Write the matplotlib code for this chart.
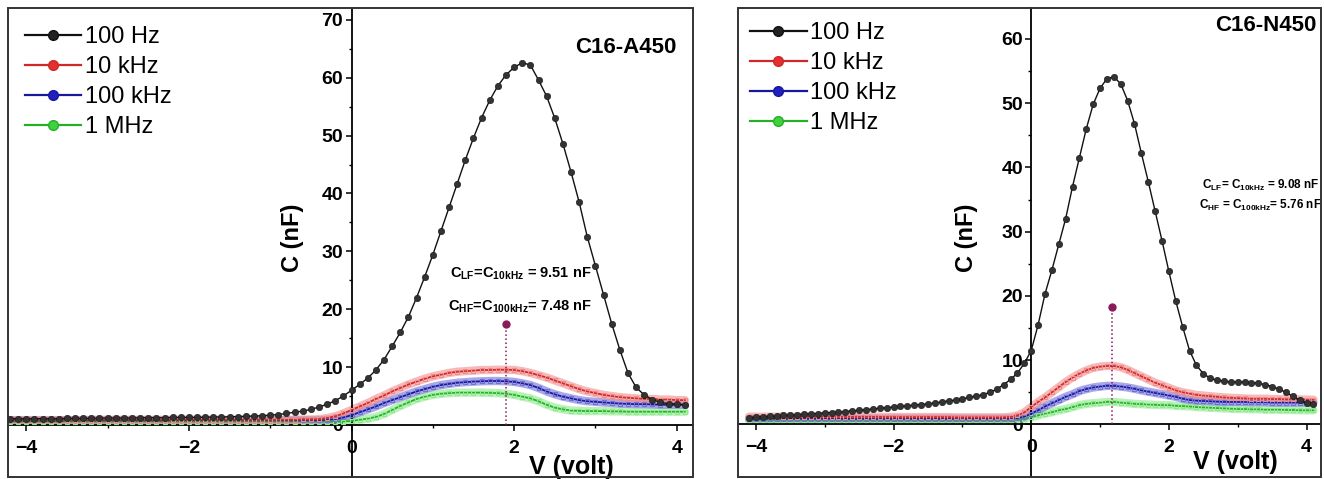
import numpy as np
import matplotlib
matplotlib.use("Agg")
import matplotlib.pyplot as plt
from matplotlib.patches import Rectangle
from matplotlib.lines import Line2D

plt.rcParams['font.family'] = ['Liberation Sans', 'DejaVu Sans']
plt.rcParams['mathtext.fontset'] = 'custom'
plt.rcParams['mathtext.rm'] = 'Liberation Sans'
plt.rcParams['mathtext.bf'] = 'Liberation Sans:bold'

# ---- data (C in nF vs bias V) ----
freq_labels = ['100 Hz', '10 kHz', '100 kHz', '1 MHz']

# C16-A450 : sweep -4.2 .. 4.1 V, 0.1 V step
v_a450 = np.round(np.arange(-42, 42) * 0.1, 1)
c100hz_a450 = [1.1, 1.1, 1.1, 1.1, 1.1, 1.1, 1.1, 1.15, 1.15, 1.15, 1.15, 1.2, 1.2, 1.2,
               1.2, 1.2, 1.25, 1.25, 1.25, 1.25, 1.3, 1.3, 1.3,
               1.3, 1.35, 1.35, 1.4, 1.4, 1.45, 1.5, 1.55, 1.6, 1.7,
               1.8, 2.0, 2.2, 2.4, 2.7, 3.1, 3.6, 4.2, 5.0, 6.0,
               7.0, 8.1, 9.5, 11.3, 13.6, 16.0, 18.7, 22.0, 25.6, 29.4,
               33.5, 37.6, 41.7, 45.8, 49.6, 53.1, 56.1, 58.6, 60.5, 61.8,
               62.6, 62.2, 59.6, 56.8, 53.0, 48.6, 43.7, 38.5, 32.5, 27.5,
               22.5, 17.5, 13.0, 9.0, 6.5, 5.2, 4.4, 3.9, 3.7, 3.6, 3.5]
c10k_a450 = [0.85, 0.85, 0.85, 0.85, 0.85, 0.85, 0.85, 0.85, 0.85, 0.85,
             0.9, 0.9, 0.9, 0.9, 0.9, 0.9, 0.9, 0.9, 0.9, 0.9,
             0.9, 0.9, 0.9, 0.9, 0.9, 0.9, 0.9, 0.9, 0.9, 0.9,
             0.9, 0.9, 0.9, 0.9, 0.9, 0.9, 0.95, 0.95,
             1.0, 1.2, 1.5, 2.0, 2.6,
             3.2, 3.8, 4.5, 5.1, 5.8, 6.4, 7.0, 7.5, 8.0, 8.4,
             8.7, 9.0, 9.2, 9.3, 9.4, 9.5, 9.5, 9.55, 9.55, 9.5,
             9.3, 9.0, 8.6, 8.2, 7.7, 7.2, 6.7, 6.2, 5.8, 5.5,
             5.2, 5.0, 4.8, 4.7, 4.6, 4.5, 4.5, 4.4, 4.4, 4.3, 4.3]
c100k_a450 = [0.8, 0.8, 0.8, 0.8, 0.8, 0.8, 0.8, 0.8, 0.8, 0.8,
              0.8, 0.8, 0.8, 0.8, 0.8, 0.8, 0.8, 0.8, 0.8, 0.8,
              0.8, 0.8, 0.8, 0.8, 0.8, 0.8, 0.8, 0.8, 0.8, 0.8,
              0.8, 0.8, 0.8, 0.8, 0.8, 0.8, 0.8, 0.8, 0.8,
              0.9, 1.0, 1.3, 1.7,
              2.2, 2.7, 3.2, 3.8, 4.3, 4.8, 5.3, 5.8, 6.2, 6.6,
              6.9, 7.1, 7.3, 7.4, 7.5, 7.55, 7.6, 7.6, 7.55, 7.45,
              7.2, 6.9, 6.4, 5.8, 5.3, 4.9, 4.6, 4.3, 4.1, 4.0,
              3.9, 3.8, 3.7, 3.65, 3.6, 3.6, 3.55, 3.5, 3.5, 3.5, 3.5]
c1m_a450 = [0.6, 0.6, 0.6, 0.6, 0.6, 0.6, 0.6, 0.6, 0.6, 0.6,
            0.6, 0.6, 0.6, 0.6, 0.6, 0.6, 0.6, 0.6, 0.6, 0.6,
            0.6, 0.6, 0.6, 0.6, 0.6, 0.6, 0.6, 0.6, 0.6, 0.6,
            0.6, 0.6, 0.6, 0.6, 0.6, 0.6, 0.6, 0.6, 0.6, 0.6,
            0.6, 0.6, 0.7,
            0.9, 1.1, 1.4, 1.9, 2.6, 3.3, 3.9, 4.5, 4.9, 5.2,
            5.4, 5.5, 5.6, 5.6, 5.6, 5.6, 5.55, 5.5, 5.4, 5.2,
            4.9, 4.6, 4.1, 3.5, 3.0, 2.7, 2.5, 2.45, 2.4, 2.4,
            2.4, 2.35, 2.35, 2.3, 2.3, 2.3, 2.3, 2.3, 2.3, 2.3, 2.3]

# C16-N450 : sweep -4.1 .. 4.1 V, 0.1 V step
v_n450 = np.round(np.arange(-41, 42) * 0.1, 1)
c100hz_n450 = [1.0, 1.1, 1.2, 1.25, 1.3, 1.4, 1.45, 1.5, 1.6, 1.65, 1.7,
               1.8, 1.85, 1.9, 2.0, 2.1, 2.2, 2.3, 2.4, 2.5, 2.6,
               2.7, 2.8, 2.9, 3.0, 3.1, 3.2, 3.35, 3.5, 3.65, 3.8,
               4.0, 4.2, 4.4, 4.65, 5.0, 5.5, 6.2, 7.0, 8.0, 9.5,
               11.5, 15.5, 20.3, 24.0, 28.0, 32.0, 37.0, 41.5, 46.0, 49.8,
               52.3, 53.8, 54.1, 53.0, 50.4, 46.8, 42.2, 37.8, 33.2, 28.6,
               23.8, 19.2, 15.2, 11.5, 9.2, 7.9, 7.2, 6.9, 6.7, 6.6,
               6.6, 6.6, 6.5, 6.4, 6.2, 5.9, 5.5, 5.0, 4.4, 3.8, 3.4, 3.2]
c10k_n450 = [1.2, 1.2, 1.2, 1.2, 1.2, 1.2, 1.2, 1.2, 1.2, 1.2,
             1.2, 1.2, 1.2, 1.2, 1.2, 1.2, 1.2, 1.2, 1.2, 1.2,
             1.15, 1.15, 1.15, 1.15, 1.15, 1.15, 1.15, 1.15, 1.15, 1.15,
             1.1, 1.1, 1.1, 1.1, 1.1, 1.1, 1.1,
             1.1, 1.2, 1.4, 1.9,
             2.7, 3.5, 4.2, 5.0, 5.8, 6.6, 7.3, 7.9, 8.4, 8.8,
             9.0, 9.1, 9.1, 8.9, 8.5, 8.0, 7.5, 7.0, 6.5, 6.1,
             5.7, 5.3, 5.0, 4.8, 4.6, 4.5, 4.4, 4.3, 4.2, 4.15,
             4.1, 4.05, 4.0, 4.0, 4.0, 3.95, 3.95, 3.9, 3.9, 3.9, 3.85, 3.85]
c100k_n450 = [0.9, 0.9, 0.9, 0.9, 0.9, 0.9, 0.9, 0.9, 0.9, 0.9,
              0.9, 0.9, 0.9, 0.9, 0.9, 0.9, 0.9, 0.9, 0.9, 0.9,
              0.9, 0.9, 0.9, 0.9, 0.9, 0.9, 0.9, 0.9, 0.9, 0.9,
              0.9, 0.9, 0.9, 0.9, 0.9, 0.9, 0.9, 0.9,
              0.9, 1.0, 1.2,
              1.7, 2.2, 2.8, 3.3, 3.8, 4.3, 4.7, 5.2, 5.5, 5.75,
              5.9, 6.0, 6.0, 5.9, 5.75, 5.55, 5.3, 5.1, 4.9, 4.7,
              4.5, 4.3, 4.0, 3.8, 3.7, 3.65, 3.6, 3.55, 3.5, 3.5,
              3.5, 3.5, 3.45, 3.45, 3.45, 3.4, 3.4, 3.4, 3.4, 3.4, 3.4, 3.4]
c1m_n450 = [0.7, 0.7, 0.7, 0.7, 0.7, 0.7, 0.7, 0.7, 0.7, 0.7,
            0.7, 0.7, 0.7, 0.7, 0.7, 0.7, 0.7, 0.7, 0.7, 0.7,
            0.7, 0.7, 0.7, 0.7, 0.7, 0.7, 0.7, 0.7, 0.7, 0.7,
            0.7, 0.7, 0.7, 0.7, 0.7, 0.7, 0.7, 0.7, 0.7,
            0.8, 0.9,
            1.1, 1.4, 1.7, 1.9, 2.2, 2.4, 2.7, 3.0, 3.2, 3.3,
            3.4, 3.5, 3.5, 3.4, 3.3, 3.2, 3.15, 3.1, 3.05, 3.0,
            3.0, 2.9, 2.85, 2.8, 2.7, 2.65, 2.6, 2.55, 2.5, 2.45,
            2.4, 2.4, 2.35, 2.35, 2.3, 2.3, 2.3, 2.25, 2.25, 2.2, 2.2, 2.2]

# marked bias point (V, C) and the extracted capacitances
mark_a450 = (1.9, 17.5)
mark_n450 = (1.18, 18.3)
notes_a450 = [r'C$_{\mathbf{LF}}$=C$_{\mathbf{10kHz}}$ = 9.51 nF',
              r'C$_{\mathbf{HF}}$=C$_{\mathbf{100kHz}}$= 7.48 nF']
notes_n450 = [r'C$_{\mathbf{LF}}$= C$_{\mathbf{10kHz}}$ = 9.08 nF',
              r'C$_{\mathbf{HF}}$ = C$_{\mathbf{100kHz}}$= 5.76 nF']

# (line colour, light band colour, legend sphere colour)
colors = [('#111111', '#555555', '#222222'),
          ('#d02828', '#f08c8c', '#e03030'),
          ('#18189a', '#7070d8', '#2020c0'),
          ('#25b025', '#8ee88e', '#40d040')]


def draw_panel(ax, v, curves, xlim, ylim, ymax, title, title_xy, notes, note_xy,
               note_size, mark, ylab_xy, xlab_xy, leg_anchor):
    # colored curves first (green at the bottom), black on top
    for idx in [3, 2, 1]:
        lc, bc, mc = colors[idx]
        ax.plot(v, curves[idx], color=bc, lw=6, alpha=0.6, solid_capstyle='round', zorder=2)
        ax.plot(v, curves[idx], color=lc, lw=1.3, marker='s', ms=3.4, mfc='none',
                mec=bc, mew=0.8, zorder=3)
    ax.plot(v, curves[0], color='#111111', lw=1.0, marker='o', ms=4.6,
            mfc='#333333', mec='#111111', mew=0.4, zorder=4)

    # marked point with dotted drop line
    ax.plot([mark[0], mark[0]], [0, mark[1]], ls=':', color='#8b1a5a', lw=1.1, zorder=5)
    ax.plot([mark[0]], [mark[1]], 'o', color='#8b1a5a', ms=5, zorder=5)

    ax.set_xlim(*xlim)
    ax.set_ylim(*ylim)

    # axes crossing at the origin, plus a plain box around the panel
    for s in ['top', 'right']:
        ax.spines[s].set_visible(False)
    ax.spines['left'].set_position(('data', 0))
    ax.spines['bottom'].set_position(('data', 0))
    ax.spines['left'].set_linewidth(1.3)
    ax.spines['bottom'].set_linewidth(1.3)
    ax.add_patch(Rectangle((0, 0), 1, 1, transform=ax.transAxes, fill=False,
                           lw=1.4, edgecolor='#333333', clip_on=False, zorder=6))

    ax.set_xticks([-4, -2, 0, 2, 4])
    ax.set_xticks([-3, -1, 1, 3], minor=True)
    ax.set_yticks(list(range(0, ymax + 1, 10)))
    ax.set_yticks(list(range(5, ymax, 10)), minor=True)
    ax.tick_params(which='major', length=4.5, width=1.1, labelsize=14)
    ax.tick_params(which='minor', length=2.5, width=1.0)
    ax.tick_params(axis='x', pad=6)
    ax.tick_params(axis='y', pad=1.5)
    for lab in ax.get_xticklabels() + ax.get_yticklabels():
        lab.set_fontweight('bold')

    ax.text(*ylab_xy, 'C (nF)', rotation=90, fontsize=17, fontweight='bold',
            ha='center', va='center')
    ax.text(*xlab_xy, 'V (volt)', fontsize=18, fontweight='bold', ha='center', va='center')
    ax.text(*title_xy, title, fontsize=16, fontweight='bold', ha='right', va='center')
    ax.text(note_xy[0], note_xy[1], notes[0], fontsize=note_size, fontweight='bold',
            ha='center', va='center')
    ax.text(note_xy[0], note_xy[2], notes[1], fontsize=note_size, fontweight='bold',
            ha='center', va='center')

    handles = [Line2D([], [], color=lc, lw=1.6, marker='o', ms=7, mfc=mc, mec=lc)
               for lc, bc, mc in colors]
    ax.legend(handles, freq_labels, loc='upper left', bbox_to_anchor=leg_anchor,
              frameon=False, fontsize=17, handlelength=2.4, handletextpad=0.15,
              labelspacing=0.34, borderpad=0, borderaxespad=0)


fig = plt.figure(figsize=(13.24, 4.79), dpi=100)
ax1 = fig.add_axes([8.4 / 1324, 2.5 / 479, 684.6 / 1324, 468.2 / 479])
ax2 = fig.add_axes([738 / 1324, 2.5 / 479, 583 / 1324, 468.2 / 479])

draw_panel(ax1, v_a450, [c100hz_a450, c10k_a450, c100k_a450, c1m_a450],
           (-4.22, 4.2), (-8.9, 72.0), 70, 'C16-A450', (4.0, 65.3),
           notes_a450, (2.08, 26.2, 20.4), 10.5, mark_a450,
           (-0.72, 32.3), (2.71, -7.2), (0.024, 0.962))
draw_panel(ax2, v_n450, [c100hz_n450, c10k_n450, c100k_n450, c1m_n450],
           (-4.26, 4.21), (-8.1, 64.75), 60, 'C16-N450', (4.15, 62.0),
           notes_n450, (3.33, 37.2, 34.1), 8.5, mark_n450,
           (-0.94, 29.0), (2.97, -5.9), (0.0206, 0.971))

fig.savefig('out.png', dpi=100)
